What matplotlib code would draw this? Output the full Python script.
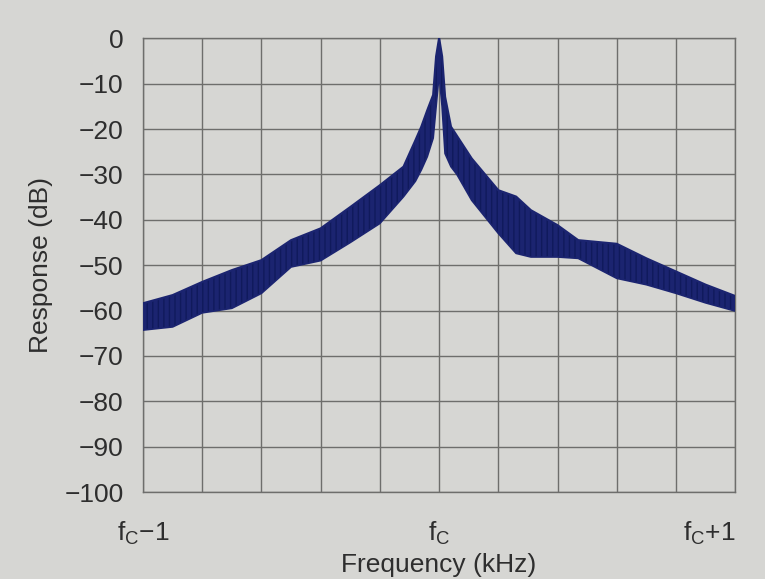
import matplotlib.pyplot as plt
import numpy as np

# =========================
# DATA (dB vs offset from fc in kHz)
# =========================
freq_offset = [-1.0, -0.9, -0.8, -0.7, -0.6, -0.5, -0.4, -0.3, -0.2, -0.12,
               -0.08, -0.06, -0.04, -0.02, -0.01, 0.0, 0.01, 0.02, 0.04,
               0.06, 0.11, 0.2, 0.26, 0.31, 0.4, 0.47, 0.6, 0.7, 0.8, 0.9, 1.0]
upper_db = [-58.4, -56.6, -53.7, -51.1, -48.9, -44.5, -41.9, -37.2, -32.4, -28.3,
            -22.5, -19.5, -15.9, -12.5, -4.0, 0.0, -4.0, -12.9, -19.5,
            -21.5, -26.5, -33.5, -34.9, -37.9, -41.2, -44.5, -45.3, -48.5, -51.4, -54.3, -56.8]
lower_db = [-64.3, -63.6, -60.5, -59.5, -56.2, -50.4, -49.0, -45.0, -40.8, -34.9,
            -31.5, -29.0, -26.1, -22.0, -15.0, -8.0, -15.0, -25.4, -28.3,
            -30.0, -35.7, -43.0, -47.4, -48.2, -48.2, -48.5, -52.9, -54.3, -56.2, -58.3, -60.1]

y_ticks = [0, -10, -20, -30, -40, -50, -60, -70, -80, -90, -100]
x_tick_pos = [-1, 0, 1]
x_tick_labels = [r"f$_\mathrm{C}$−1", r"f$_\mathrm{C}$", r"f$_\mathrm{C}$+1"]

# =========================
# STYLE
# =========================
plt.rcParams["font.family"] = ["Liberation Sans", "DejaVu Sans"]
plt.rcParams["mathtext.fontset"] = "custom"
plt.rcParams["mathtext.rm"] = "Liberation Sans"
plt.rcParams["hatch.color"] = "#0e1650"

paper = "#d6d6d3"
grid_col = "#6e6e6c"
trace_col = "#1b2470"
text_col = "#2e2e2e"

fig = plt.figure(figsize=(7.65, 5.79), dpi=100, facecolor=paper)
ax = fig.add_axes([0.187, 0.150, 0.774, 0.784], facecolor=paper)

# =========================
# TRACE
# =========================
f = np.array(freq_offset)
ax.fill_between(f, lower_db, upper_db, facecolor=trace_col, edgecolor="#101a5c",
                hatch="|||", linewidth=0.0, zorder=3)
ax.plot(f, upper_db, color=trace_col, lw=1.6, zorder=4)
ax.plot(f, lower_db, color=trace_col, lw=1.2, zorder=4)

# =========================
# AXES / GRID
# =========================
ax.set_xlim(-1, 1)
ax.set_ylim(-100, 0)
ax.set_xticks(np.linspace(-1, 1, 11), minor=True)
ax.set_yticks(y_ticks)
ax.set_yticklabels([f"{v}".replace("-", "−") for v in y_ticks])
ax.set_xticks(x_tick_pos)
ax.set_xticklabels(x_tick_labels)
ax.grid(True, which="both", color=grid_col, lw=1.0)
ax.tick_params(which="both", length=0, labelsize=19, colors=text_col)
ax.tick_params(axis="y", pad=14)
ax.tick_params(axis="x", pad=20)
labels = ax.get_xticklabels()
labels[2].set_horizontalalignment("right")
for s in ax.spines.values():
    s.set_color(grid_col)
    s.set_linewidth(1.0)

ax.set_ylabel("Response (dB)", fontsize=19, color=text_col, labelpad=8)
ax.set_xlabel("Frequency (kHz)", fontsize=19, color=text_col)
ax.xaxis.set_label_coords(0.5, -0.135)

plt.savefig("out.png", dpi=100, facecolor=paper)
